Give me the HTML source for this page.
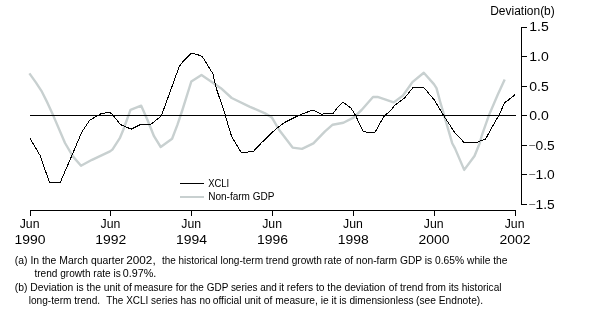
<!DOCTYPE html>
<html><head><meta charset="utf-8"><style>
html,body{margin:0;padding:0;background:#fff;width:597px;height:322px;overflow:hidden}
svg{display:block;will-change:transform}
text{font-family:"Liberation Sans",sans-serif;fill:#000;white-space:pre}
</style></head><body>
<svg width="597" height="322" viewBox="0 0 597 322" xml:space="preserve">
<g shape-rendering="crispEdges" stroke="#000" stroke-width="1" fill="none">
<path d="M30.5 216V210.5H515.5V216"/>
<path d="M110.5 210.5V216M191.5 210.5V216M272.5 210.5V216M353.5 210.5V216M434.5 210.5V216"/>
<path d="M527 27.5H521.5V204.5H527"/>
<path d="M521.5 56.5H527M521.5 86.5H527M521.5 115.5H527M521.5 145.5H527M521.5 174.5H527"/>
<path d="M180 183.5H204"/>
</g>
<path d="M180 197H204" stroke="#c8d0d0" stroke-width="2" shape-rendering="crispEdges"/>
<polyline points="29.4,73.4 36,82.6 41.4,90.8 47.5,102.9 53.5,116.1 65,143 72.9,156.4 81,165.8 92,159.8 110,151.4 112.4,149.6 119.8,138.2 123.2,130 130.5,109.8 141.2,105.7 147.5,120 154,136.2 160.7,147 172.1,138.8 177.4,124.9 182.4,110 191.3,81.5 201.5,75 220.9,88.2 231.7,98 250,106.8 265.1,113.4 271.8,117.4 279.2,130 292.6,147.6 302,148.9 313.4,143.4 325,131.3 332.7,124.7 343.4,122.8 353.5,117.6 361.6,110 373,97 377.6,96.9 393.7,102.4 403,95.5 412.4,82.1 423.8,72.8 433.9,84.1 436.5,88.1 440.6,103.2 452.2,143.2 455,148.4 464.2,169.9 474.5,156 479.7,143.2 482,134.8 489,115.1 497.6,95 504.7,79.6" fill="none" stroke="#c8d0d0" stroke-width="2.4" stroke-linejoin="round"/>
<path d="M30 115.5H516" stroke="#000" stroke-width="1" shape-rendering="crispEdges"/>
<polyline points="30,138.4 40.1,155.5 49.5,182.5 60.2,182.5 72.2,154.7 81.7,132.3 89.7,120.3 95,117.1 101.7,113.4 109.7,112.4 112.4,114.4 120.5,124.6 131.2,129.2 140.6,124.5 150.6,124.5 160.7,116.5 162,114.1 179.3,66.3 182.6,62 191.4,53.3 196.8,54.4 202.2,56.4 212.9,73.8 216.2,88.2 224.5,112.5 226.3,119 231.7,136.8 241,152.3 253,151.8 261.1,143.2 273.1,131.5 281.2,124.8 286.6,121.4 298.6,115.4 304,113.4 312.7,110 321.4,114.1 327.4,113.8 333.4,113.1 337.4,107.8 342.8,102.2 350.8,107.8 355.5,115.3 362.9,130.9 366.2,132.2 375,132.2 383.7,116.8 391,110 395,105 397.7,103.2 404.4,98.2 413.1,87.5 423.8,87.5 434.5,100.2 443.5,115.4 454.9,132.8 464.2,142.6 476.3,142.6 485.7,138.9 492.1,127 499.1,115.1 504.6,102.5 507.1,101 515.2,94.6" fill="none" stroke="#000" stroke-width="1" stroke-linejoin="round" shape-rendering="crispEdges"/>
<g font-size="12">
<text x="490.2" y="15.3" textLength="64.6" lengthAdjust="spacingAndGlyphs">Deviation(b)</text>
<text x="529.3" y="31.3" textLength="19.5" lengthAdjust="spacingAndGlyphs">1.5</text><text x="529.3" y="60.8" textLength="19.5" lengthAdjust="spacingAndGlyphs">1.0</text><text x="529.3" y="90.6" textLength="19.5" lengthAdjust="spacingAndGlyphs">0.5</text><text x="529.3" y="120.1" textLength="19.5" lengthAdjust="spacingAndGlyphs">0.0</text><text x="535.6" y="149.8" textLength="19.2" lengthAdjust="spacingAndGlyphs">0.5</text><text x="535.6" y="178.8" textLength="19.2" lengthAdjust="spacingAndGlyphs">1.0</text><text x="535.6" y="208.8" textLength="19.2" lengthAdjust="spacingAndGlyphs">1.5</text><rect x="529.2" y="145" width="6" height="0.9" fill="#666"/><rect x="529.2" y="174" width="6" height="0.9" fill="#666"/><rect x="529.2" y="204" width="6" height="0.9" fill="#666"/>
</g>
<g font-size="12.6" text-anchor="middle">
<text x="29.60" y="228" textLength="19.8" lengthAdjust="spacingAndGlyphs">Jun</text><text x="29.90" y="243.6" textLength="31" lengthAdjust="spacingAndGlyphs">1990</text><text x="110.43" y="228" textLength="19.8" lengthAdjust="spacingAndGlyphs">Jun</text><text x="110.73" y="243.6" textLength="31" lengthAdjust="spacingAndGlyphs">1992</text><text x="191.27" y="228" textLength="19.8" lengthAdjust="spacingAndGlyphs">Jun</text><text x="191.57" y="243.6" textLength="31" lengthAdjust="spacingAndGlyphs">1994</text><text x="272.10" y="228" textLength="19.8" lengthAdjust="spacingAndGlyphs">Jun</text><text x="272.40" y="243.6" textLength="31" lengthAdjust="spacingAndGlyphs">1996</text><text x="352.93" y="228" textLength="19.8" lengthAdjust="spacingAndGlyphs">Jun</text><text x="353.23" y="243.6" textLength="31" lengthAdjust="spacingAndGlyphs">1998</text><text x="433.76" y="228" textLength="19.8" lengthAdjust="spacingAndGlyphs">Jun</text><text x="434.06" y="243.6" textLength="31" lengthAdjust="spacingAndGlyphs">2000</text><text x="514.60" y="228" textLength="19.8" lengthAdjust="spacingAndGlyphs">Jun</text><text x="514.90" y="243.6" textLength="31" lengthAdjust="spacingAndGlyphs">2002</text>
</g>
<g font-size="10.5">
<text x="208.2" y="187" textLength="21" lengthAdjust="spacingAndGlyphs">XCLI</text>
<text x="208.2" y="200.2" textLength="66.3" lengthAdjust="spacingAndGlyphs">Non-farm GDP</text>
</g>
<g font-size="10.5">
<text x="14.8" y="263.5" textLength="109.10" lengthAdjust="spacingAndGlyphs">(a) In the March quarter</text>
<text x="126.2" y="263.5" textLength="29.50" lengthAdjust="spacingAndGlyphs">2002,</text>
<text x="162" y="263.5" textLength="55.70" lengthAdjust="spacingAndGlyphs">the historical</text>
<text x="220.4" y="263.5" textLength="101.60" lengthAdjust="spacingAndGlyphs">long-term trend growth</text>
<text x="324.1" y="263.5" textLength="183.40" lengthAdjust="spacingAndGlyphs">rate of non-farm GDP is 0.65% while the</text>
<text x="34.4" y="276.8" textLength="86.40" lengthAdjust="spacingAndGlyphs">trend growth rate is</text>
<text x="122.8" y="276.8" textLength="33.50" lengthAdjust="spacingAndGlyphs">0.97%.</text>
<text x="14.8" y="290.8" textLength="117.10" lengthAdjust="spacingAndGlyphs">(b) Deviation is the unit of</text>
<text x="134.1" y="290.8" textLength="142.80" lengthAdjust="spacingAndGlyphs">measure for the GDP series and</text>
<text x="278.9" y="290.8" textLength="106.60" lengthAdjust="spacingAndGlyphs">it refers to the deviation</text>
<text x="388.8" y="290.8" textLength="112.70" lengthAdjust="spacingAndGlyphs">of trend from its historical</text>
<text x="28.7" y="303.6" textLength="71.50" lengthAdjust="spacingAndGlyphs">long-term trend.</text>
<text x="106.2" y="303.6" textLength="104.30" lengthAdjust="spacingAndGlyphs">The XCLI series has no</text>
<text x="212.7" y="303.6" textLength="116.00" lengthAdjust="spacingAndGlyphs">official unit of measure, ie</text>
<text x="331.4" y="303.6" textLength="82.30" lengthAdjust="spacingAndGlyphs">it is dimensionless</text>
<text x="416" y="303.6" textLength="67.10" lengthAdjust="spacingAndGlyphs">(see Endnote).</text>
</g>
</svg>
</body></html>
